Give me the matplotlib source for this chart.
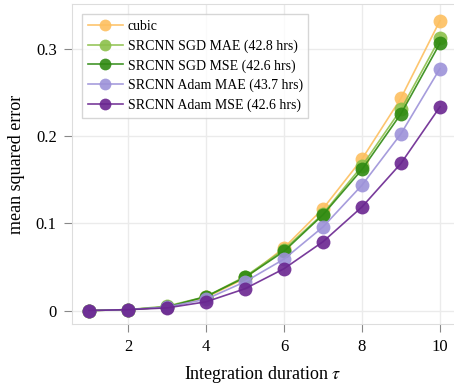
import matplotlib
matplotlib.use("Agg")
import matplotlib.pyplot as plt

tau = [1, 2, 3, 4, 5, 6, 7, 8, 9, 10]
cubic = [0.000, 0.001, 0.004, 0.015, 0.037, 0.072, 0.117, 0.174, 0.244, 0.333]
sgd_mae = [0.000, 0.001, 0.005, 0.016, 0.039, 0.070, 0.111, 0.166, 0.231, 0.313]
sgd_mse = [0.000, 0.001, 0.004, 0.016, 0.038, 0.068, 0.110, 0.162, 0.226, 0.307]
adam_mae = [0.000, 0.001, 0.004, 0.013, 0.033, 0.059, 0.096, 0.144, 0.203, 0.278]
adam_mse = [0.000, 0.001, 0.003, 0.010, 0.025, 0.048, 0.079, 0.119, 0.169, 0.234]

labels = ["cubic", "SRCNN SGD MAE (42.8 hrs)", "SRCNN SGD MSE (42.6 hrs)",
          "SRCNN Adam MAE (43.7 hrs)", "SRCNN Adam MSE (42.6 hrs)"]
series = [cubic, sgd_mae, sgd_mse, adam_mae, adam_mse]
colors = ["#fdbf5f", "#8cc04a", "#2f8a12", "#9d92d9", "#6a2690"]

plt.rcParams['font.family'] = ['Liberation Serif', 'DejaVu Serif']
plt.rcParams['mathtext.fontset'] = 'stix'

fig = plt.figure(figsize=(4.54, 3.85), dpi=100)
ax = fig.add_axes([0.1586, 0.1584, 0.8414, 0.831])

for y, lab, c in zip(series, labels, colors):
    ax.plot(tau, y, '-', color=c, lw=1.2, marker='o', markersize=10,
            markeredgewidth=0, alpha=0.9, label=lab, zorder=3)

ax.set_xlim(0.564, 10.36)
ax.set_ylim(-0.0155, 0.352)
ax.set_xticks([2, 4, 6, 8, 10])
ax.set_yticks([0, 0.1, 0.2, 0.3])
ax.set_yticklabels(["0", "0.1", "0.2", "0.3"])
ax.grid(True, color="#ebebeb", lw=1.0, zorder=0)
for s in ax.spines.values():
    s.set_color("#dddddd")
ax.spines['right'].set_visible(False)
ax.tick_params(direction='out', length=6, pad=5, color="#888888", labelsize=12)
ax.set_xlabel(r"Integration duration $\tau$", fontsize=13, labelpad=6)
ax.set_ylabel("mean squared error", fontsize=13, labelpad=8)

leg = ax.legend(loc='upper left', fontsize=10, frameon=True, fancybox=False,
                edgecolor="#cccccc", borderaxespad=0.75, handlelength=2.5,
                handletextpad=0.35, labelspacing=0.45, markerscale=0.85)
leg.get_frame().set_linewidth(1.0)

fig.savefig("out.png", dpi=100)
